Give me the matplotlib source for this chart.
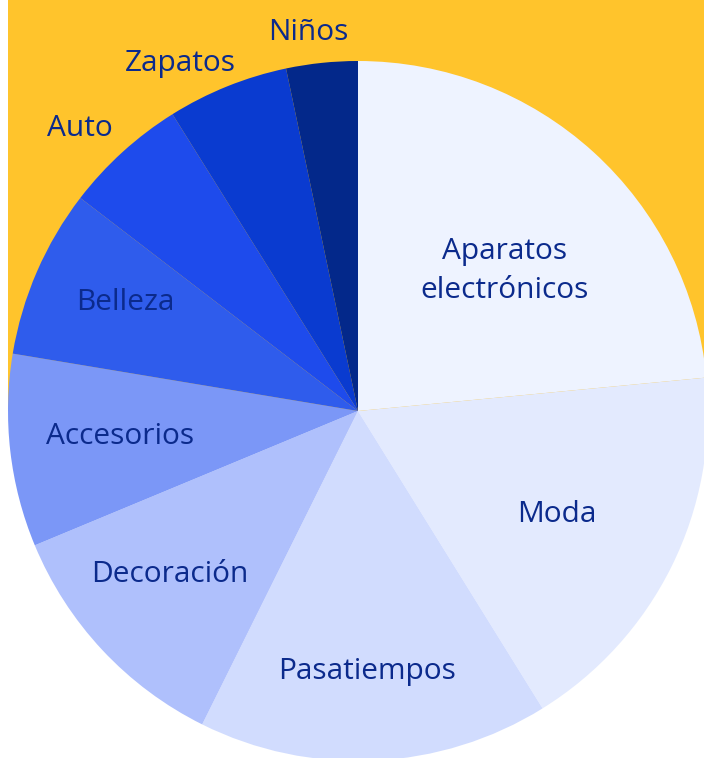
import matplotlib
matplotlib.use("Agg")
import matplotlib.pyplot as plt
from matplotlib.patches import Rectangle

# Share of sales by category (percent), clockwise from 12 o'clock
categories = ["Aparatos\nelectrónicos", "Moda", "Pasatiempos", "Decoración",
              "Accesorios", "Belleza", "Auto", "Zapatos", "Niños"]
shares = [23.5, 17.7, 16.2, 11.4, 8.9, 7.8, 5.7, 5.6, 3.3]

colors = ["#EEF3FF", "#E3EAFE", "#D1DCFE", "#AFC0FC", "#7B97F7",
          "#2F5CEC", "#1E4BEC", "#0A3BD0", "#03288A"]
text_color = "#0B2A8C"
yellow = "#FFC42C"

# label centres in pixel space (x, y from top)
label_pos = [(505, 271), (557, 514), (367, 671), (170, 575), (120, 436),
             (125, 302), (80, 128), (180, 63), (308, 32)]

W, H = 704, 758
cx, cy, r = 358, 411, 350

fig = plt.figure(figsize=(W / 100, H / 100), dpi=100)
ax = fig.add_axes([0, 0, 1, 1])

# yellow block behind the top half of the pie
ax.add_patch(Rectangle((8, H - cy), W - 8, cy, facecolor=yellow,
                       edgecolor="none", zorder=0))

ax.pie(shares, colors=colors, startangle=90, counterclock=False,
       center=(cx, H - cy), radius=r, frame=False,
       wedgeprops=dict(linewidth=0, edgecolor="none", zorder=1))

for name, (x, y) in zip(categories, label_pos):
    ax.text(x, H - y, name, ha="center", va="center", fontsize=21.5,
            family="Open Sans", color=text_color, linespacing=1.42, zorder=3)

ax.set_xlim(0, W)
ax.set_ylim(0, H)
ax.set_aspect("equal")
ax.axis("off")

fig.savefig("out.png", dpi=100, facecolor="white")
